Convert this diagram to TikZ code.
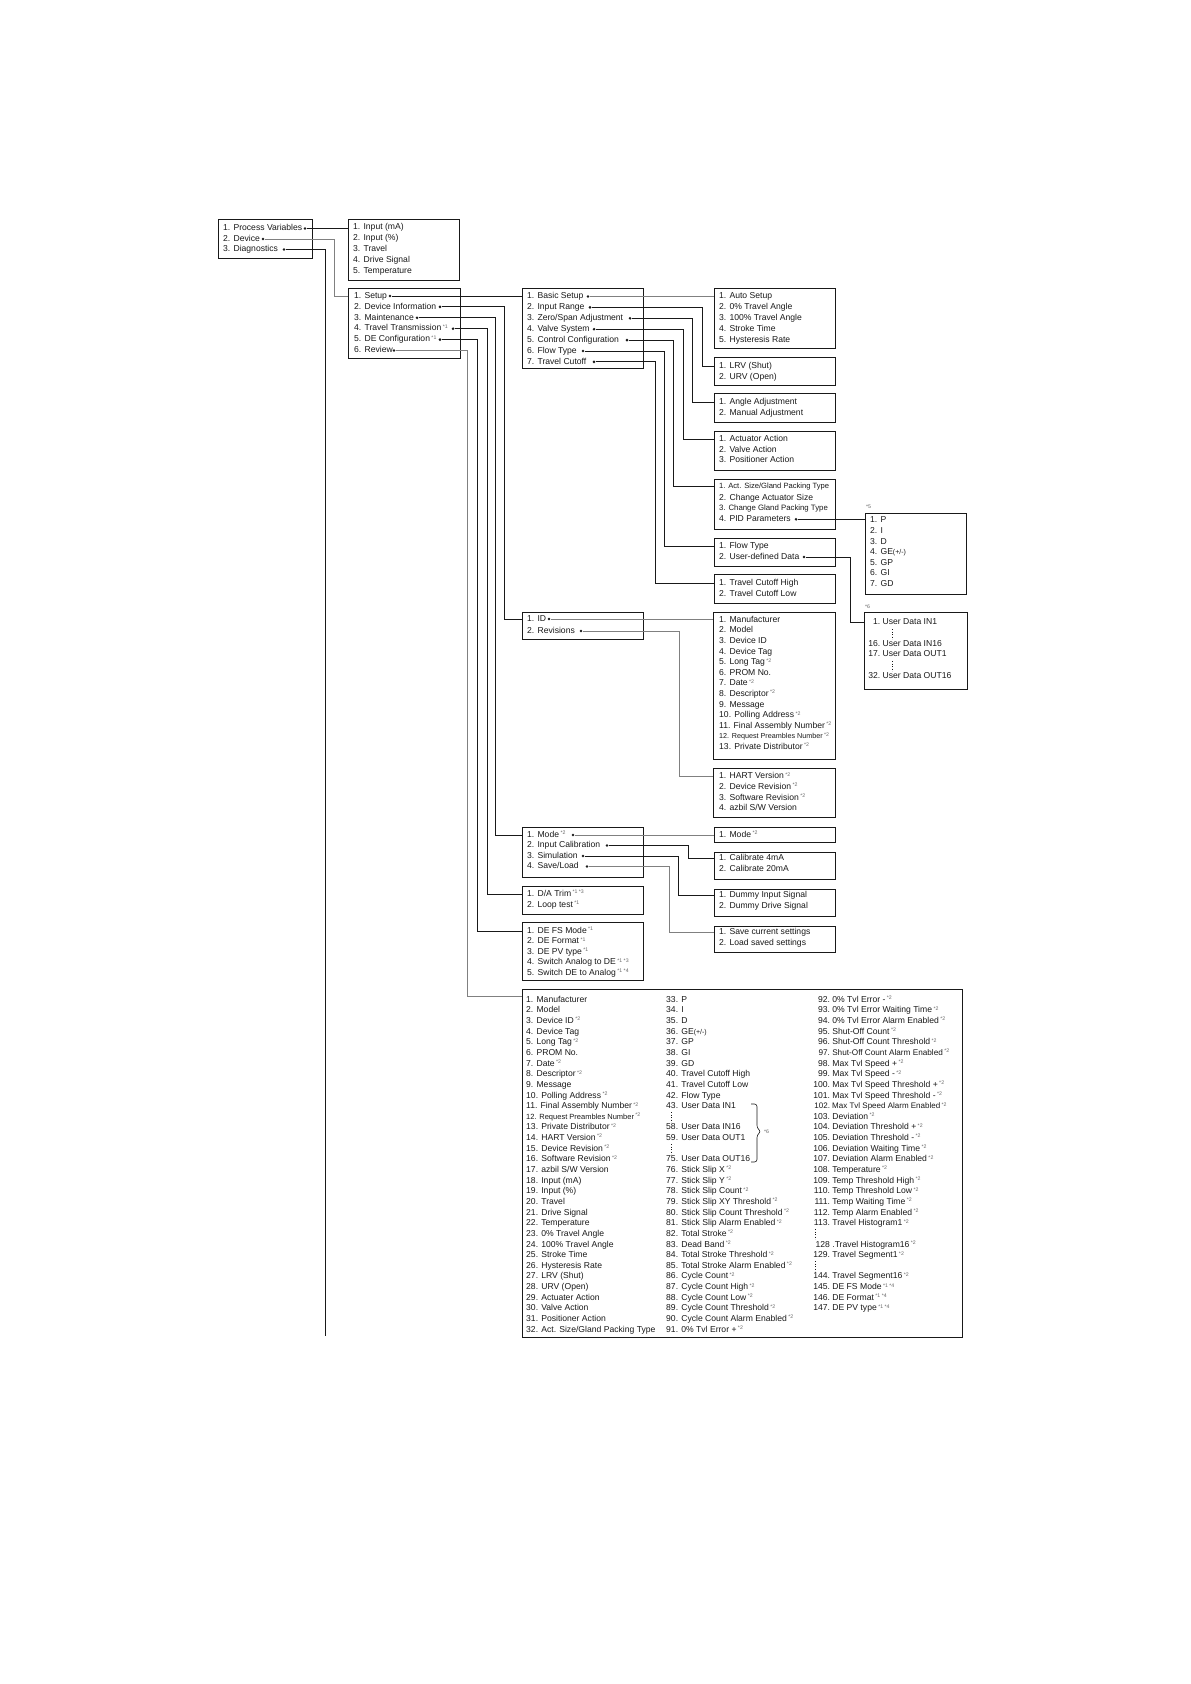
\documentclass[tikz,border=0pt]{standalone}
\usepackage{fontspec}
\setmainfont{Liberation Sans}
\usetikzlibrary{calc}
\definecolor{ink}{gray}{0.1}
\definecolor{sgray}{gray}{0.4}
\definecolor{lgray}{gray}{0.5}
\newcommand{\sn}[1]{\,{\color{sgray}\fontsize{5.2}{6}\selectfont\raisebox{2.6pt}{#1}}}
\newcommand{\nr}[1]{\makebox[16.8pt][r]{#1}}
\newcommand{\nrs}[1]{\makebox[12pt][r]{#1}}
\newcommand{\cnd}[2]{{\fontsize{#1}{10}\selectfont #2}}
\tikzset{
  box/.style={draw=ink, line width=1pt, anchor=north west, inner sep=0pt},
  it/.style={anchor=west, inner sep=0pt, text height=6.2pt, text depth=1.8pt, font=\fontsize{8.6}{10}\selectfont, text=ink},
  nt/.style={anchor=west, inner sep=0pt, font=\fontsize{5.2}{6}\selectfont, text=sgray},
  dot/.style={circle, fill=ink, inner sep=0pt, minimum size=2.9pt},
  ln/.style={draw=ink, line width=0.85pt},
  gln/.style={draw=lgray, line width=0.85pt},
  vdots/.style={draw=ink, line width=0.6pt, dash pattern=on 0.9pt off 1.6pt},
}
\begin{document}
\begin{tikzpicture}[x=1pt,y=-1pt]
\useasboundingbox (0,0) rectangle (1191,1684);

% ---------- Box A
\node[box, minimum width=94pt, minimum height=39pt] (bA) at (218,219) {};
\node[it] (tPV) at (223,228.5) {1. Process Variables};
\node[it] (tDev) at (223,239) {2. Device};
\node[it] (tDiag) at (223,249.5) {3. Diagnostics};
\node[dot] (dPV) at (305,228.5) {};
\node[dot] (dDev) at (263,239) {};
\node[dot] (dDiag) at (284,249.5) {};

% ---------- Box B
\node[box, minimum width=111pt, minimum height=61pt] (bB) at (348,219) {};
\node[it] (tB1) at (353,227.5) {1. Input (mA)};
\node[it] (tB2) at (353,238.3) {2. Input (\%)};
\node[it] (tB3) at (353,249) {3. Travel};
\node[it] (tB4) at (353,260) {4. Drive Signal};
\node[it] (tB5) at (353,271) {5. Temperature};

% ---------- Box C
\node[box, minimum width=112pt, minimum height=70pt] (bC) at (348,288) {};
\node[it] (tSetup) at (354,296) {1. Setup};
\node[it] (tDI) at (354,306.9) {2. Device Information};
\node[it] (tMa) at (354,317.8) {3. Maintenance};
\node[it] (tTT) at (354,328.7) {4. Travel Transmission\sn{*1}};
\node[it] (tDEC) at (354,339.6) {5. DE Configuration\sn{*1}};
\node[it] (tRv) at (354,350.5) {6. Review};
\node[dot] (dSetup) at (390,296) {};
\node[dot] (dDI) at (440,306.9) {};
\node[dot] (dMa) at (417,317.8) {};
\node[dot] (dTT) at (453,328.7) {};
\node[dot] (dDEC) at (440,339.6) {};
\node[dot] (dRv) at (394,350.5) {};

% ---------- Box D
\node[box, minimum width=121pt, minimum height=80pt] (bD) at (522,288) {};
\node[it] (tBS) at (527,296.5) {1. Basic Setup};
\node[it] (tIR) at (527,307.4) {2. Input Range};
\node[it] (tZS) at (527,318.3) {3. Zero/Span Adjustment};
\node[it] (tVS) at (527,329.2) {4. Valve System};
\node[it] (tCC) at (527,340.1) {5. Control Configuration};
\node[it] (tFT) at (527,351) {6. Flow Type};
\node[it] (tTC) at (527,361.9) {7. Travel Cutoff};
\node[dot] (dBS) at (588,296.5) {};
\node[dot] (dIR) at (590,307.4) {};
\node[dot] (dZS) at (630,318.3) {};
\node[dot] (dVS) at (594,329.2) {};
\node[dot] (dCC) at (627,340.1) {};
\node[dot] (dFT) at (583,351) {};
\node[dot] (dTC) at (594,361.9) {};

% ---------- Box E
\node[box, minimum width=121pt, minimum height=60pt] (bE) at (714,288) {};
\node[it] (tE1) at (719,296.5) {1. Auto Setup};
\node[it] (tE2) at (719,307.5) {2. 0\% Travel Angle};
\node[it] (tE3) at (719,318.5) {3. 100\% Travel Angle};
\node[it] (tE4) at (719,329) {4. Stroke Time};
\node[it] (tE5) at (719,340) {5. Hysteresis Rate};

% ---------- Box F
\node[box, minimum width=121pt, minimum height=28pt] (bF) at (714,357) {};
\node[it] (tLRV) at (719,366) {1. LRV (Shut)};
\node[it] (tURV) at (719,377) {2. URV (Open)};

% ---------- Box G
\node[box, minimum width=121pt, minimum height=29pt] (bG) at (714,393) {};
\node[it] (tAng) at (719,402) {1. Angle Adjustment};
\node[it] (tMan) at (719,413) {2. Manual Adjustment};

% ---------- Box H
\node[box, minimum width=121pt, minimum height=39pt] (bH) at (714,431) {};
\node[it] (tAct) at (719,439.3) {1. Actuator Action};
\node[it] (tVal) at (719,450) {2. Valve Action};
\node[it] (tPos) at (719,460.7) {3. Positioner Action};

% ---------- Box I
\node[box, minimum width=121pt, minimum height=50pt] (bI) at (714,479) {};
\node[it] (tAS) at (719,486.5) {\cnd{7.6}{1. Act. Size/Gland Packing Type}};
\node[it] (tCAS) at (719,497.8) {2. Change Actuator Size};
\node[it] (tCGP) at (719,508.6) {\cnd{7.8}{3. Change Gland Packing Type}};
\node[it] (tPID) at (719,519.3) {4. PID Parameters};
\node[dot] (dPID) at (796,519.3) {};

% ---------- Box J
\node[box, minimum width=101pt, minimum height=81pt] (bJ) at (865,513) {};
\node[nt] (n5) at (866,507) {*5};
\node[it] (tJ1) at (870,520.7) {1. P};
\node[it] (tJ2) at (870,531.3) {2. I};
\node[it] (tJ3) at (870,541.9) {3. D};
\node[it] (tJ4) at (870,552.5) {4. GE\cnd{7}{(+/-)}};
\node[it] (tJ5) at (870,563.1) {5. GP};
\node[it] (tJ6) at (870,573.7) {6. GI};
\node[it] (tJ7) at (870,584.3) {7. GD};

% ---------- Box K
\node[box, minimum width=121pt, minimum height=28pt] (bK) at (714,538) {};
\node[it] (tFT1) at (719,546) {1. Flow Type};
\node[it] (tUDD) at (719,557) {2. User-defined Data};
\node[dot] (dUDD) at (804,557) {};

% ---------- Box L
\node[box, minimum width=121pt, minimum height=29pt] (bL) at (714,574) {};
\node[it] (tTCH) at (719,583) {1. Travel Cutoff High};
\node[it] (tTCL) at (719,594) {2. Travel Cutoff Low};

% ---------- Box M
\node[box, minimum width=121pt, minimum height=27pt] (bM) at (522,612) {};
\node[it] (tID) at (527,619) {1. ID};
\node[it] (tRevs) at (527,631) {2. Revisions};
\node[dot] (dID) at (549,619) {};
\node[dot] (dRevs) at (581,631) {};

% ---------- Box N
\node[box, minimum width=122pt, minimum height=147pt] (bN) at (713,612) {};
\foreach \t [count=\i] in {
 {1. Manufacturer},{2. Model},{3. Device ID},{4. Device Tag},{5. Long Tag\sn{*2}},
 {6. PROM No.},{7. Date\sn{*2}},{8. Descriptor\sn{*2}},{9. Message},
 {10. Polling Address\sn{*2}},{11. Final Assembly Number\sn{*2}},
 {\cnd{7.2}{12. Request Preambles Number}\sn{*2}},{13. Private Distributor\sn{*2}}}
 \node[it] (tN\i) at (719,{620+10.6*(\i-1)}) {\t};

% ---------- Box O
\node[box, minimum width=103pt, minimum height=77pt] (bO) at (864,612) {};
\node[nt] (n6) at (865,607) {*6};
\node[it] (tUD1) at (868,622.5) {\nrs{1.} User Data IN1};
\node[it] (tUD16) at (868,644.3) {\nrs{16.} User Data IN16};
\node[it] (tUD17) at (868,654.5) {\nrs{17.} User Data OUT1};
\node[it] (tUD32) at (868,676.5) {\nrs{32.} User Data OUT16};
\draw[vdots] (892,629) -- (892,639);
\draw[vdots] (892,661) -- (892,671);

% ---------- Box P
\node[box, minimum width=122pt, minimum height=49pt] (bP) at (713,768) {};
\node[it] (tHART) at (719,776.7) {1. HART Version\sn{*2}};
\node[it] (tP2) at (719,787.3) {2. Device Revision\sn{*2}};
\node[it] (tP3) at (719,798) {3. Software Revision\sn{*2}};
\node[it] (tP4) at (719,808.3) {4. azbil S/W Version};

% ---------- Box Q
\node[box, minimum width=121pt, minimum height=50pt] (bQ) at (522,827) {};
\node[it] (tMode) at (527,835) {1. Mode\sn{*2}};
\node[it] (tIC) at (527,845.5) {2. Input Calibration};
\node[it] (tSim) at (527,856) {3. Simulation};
\node[it] (tSL) at (527,866.5) {4. Save/Load};
\node[dot] (dMode) at (573,835) {};
\node[dot] (dIC) at (607,845.5) {};
\node[dot] (dSim) at (583,856) {};
\node[dot] (dSL) at (587,866.5) {};

% ---------- Boxes R S T U
\node[box, minimum width=121pt, minimum height=15pt] (bR) at (714,827) {};
\node[it] (tR1) at (719,835) {1. Mode\sn{*2}};
\node[box, minimum width=121pt, minimum height=27pt] (bS) at (714,852) {};
\node[it] (tCal4) at (719,858.5) {1. Calibrate 4mA};
\node[it] (tCal20) at (719,869) {2. Calibrate 20mA};
\node[box, minimum width=121pt, minimum height=27pt] (bT) at (714,889) {};
\node[it] (tDum1) at (719,895.3) {1. Dummy Input Signal};
\node[it] (tDum2) at (719,905.8) {2. Dummy Drive Signal};
\node[box, minimum width=121pt, minimum height=26pt] (bU) at (714,926) {};
\node[it] (tSave) at (719,932.3) {1. Save current settings};
\node[it] (tLoad) at (719,943) {2. Load saved settings};

% ---------- Box V
\node[box, minimum width=121pt, minimum height=28pt] (bV) at (522,886) {};
\node[it] (tDA) at (527,894.3) {1. D/A Trim\sn{*1 *3}};
\node[it] (tLoop) at (527,905) {2. Loop test\sn{*1}};

% ---------- Box W
\node[box, minimum width=121pt, minimum height=58pt] (bW) at (522,922) {};
\node[it] (tDEFS) at (527,931) {1. DE FS Mode\sn{*1}};
\node[it] (tW2) at (527,941.5) {2. DE Format\sn{*1}};
\node[it] (tW3) at (527,952) {3. DE PV type\sn{*1}};
\node[it] (tW4) at (527,962.5) {4. Switch Analog to DE\sn{*1 *3}};
\node[it] (tW5) at (527,973) {5. Switch DE to Analog\sn{*1 *4}};

% ---------- Box X (Review)
\node[box, minimum width=440pt, minimum height=348pt] (bX) at (522,989) {};
\coordinate (revIn) at (522,996.6);
\foreach \t [count=\i] in {
 {1. Manufacturer},{2. Model},{3. Device ID\sn{*2}},{4. Device Tag},{5. Long Tag\sn{*2}},
 {6. PROM No.},{7. Date\sn{*2}},{8. Descriptor\sn{*2}},{9. Message},{10. Polling Address\sn{*2}},
 {11. Final Assembly Number\sn{*2}},{\cnd{7.5}{12. Request Preambles Number}\sn{*2}},
 {13. Private Distributor\sn{*2}},{14. HART Version\sn{*2}},{15. Device Revision\sn{*2}},
 {16. Software Revision\sn{*2}},{17. azbil S/W Version},{18. Input (mA)},{19. Input (\%)},
 {20. Travel},{21. Drive Signal},{22. Temperature},{23. 0\% Travel Angle},
 {24. 100\% Travel Angle},{25. Stroke Time},{26. Hysteresis Rate},{27. LRV (Shut)},
 {28. URV (Open)},{29. Actuater Action},{30. Valve Action},{31. Positioner Action},
 {32. Act. Size/Gland Packing Type}}
 \node[it] (xa\i) at (526,{1000+10.645*(\i-1)}) {\t};
% column 2
\foreach \t [count=\i] in {
 {33. P},{34. I},{35. D},{36. GE\cnd{7}{(+/-)}},{37. GP},{38. GI},{39. GD},
 {40. Travel Cutoff High},{41. Travel Cutoff Low},{42. Flow Type},{43. User Data IN1}}
 \node[it] (xb\i) at (666,{1000+10.645*(\i-1)}) {\t};
\foreach \t [count=\i from 13] in {{58. User Data IN16},{59. User Data OUT1}}
 \node[it] (xb\i) at (666,{1000+10.645*(\i-1)}) {\t};
\foreach \t [count=\i from 16] in {
 {75. User Data OUT16},{76. Stick Slip X\sn{*2}},{77. Stick Slip Y\sn{*2}},
 {78. Stick Slip Count\sn{*2}},{79. Stick Slip XY Threshold\sn{*2}},
 {80. Stick Slip Count Threshold\sn{*2}},{81. Stick Slip Alarm Enabled\sn{*2}},
 {82. Total Stroke\sn{*2}},{83. Dead Band\sn{*2}},{84. Total Stroke Threshold\sn{*2}},
 {85. Total Stroke Alarm Enabled\sn{*2}},{86. Cycle Count\sn{*2}},{87. Cycle Count High\sn{*2}},
 {88. Cycle Count Low\sn{*2}},{89. Cycle Count Threshold\sn{*2}},
 {90. Cycle Count Alarm Enabled\sn{*2}},{91. 0\% Tvl Error +\sn{*2}}}
 \node[it] (xb\i) at (666,{1000+10.645*(\i-1)}) {\t};
\draw[vdots] (671,1112) -- (671,1122);
\draw[vdots] (671,1144) -- (671,1154);
\draw[ink, line width=0.6pt, rounded corners=2.5pt]
  (751,1104) -| (757,1128) -- (761,1131.5) -- (757,1135) |- (751,1162);
\node[nt] (n6b) at (764,1131.5) {*6};
% column 3
\foreach \t [count=\i] in {
 {\nr{92.} 0\% Tvl Error -\sn{*2}},{\nr{93.} 0\% Tvl Error Waiting Time\sn{*2}},
 {\nr{94.} 0\% Tvl Error Alarm Enabled\sn{*2}},{\nr{95.} Shut-Off Count\sn{*2}},
 {\nr{96.} Shut-Off Count Threshold\sn{*2}},{\cnd{8.2}{\nr{97.} Shut-Off Count Alarm Enabled}\sn{*2}},
 {\nr{98.} Max Tvl Speed +\sn{*2}},{\nr{99.} Max Tvl Speed -\sn{*2}},
 {\nr{100.} Max Tvl Speed Threshold +\sn{*2}},{\nr{101.} Max Tvl Speed Threshold -\sn{*2}},
 {\cnd{8}{\nr{102.} Max Tvl Speed Alarm Enabled}\sn{*2}},{\nr{103.} Deviation\sn{*2}},
 {\nr{104.} Deviation Threshold +\sn{*2}},{\nr{105.} Deviation Threshold -\sn{*2}},
 {\nr{106.} Deviation Waiting Time\sn{*2}},{\nr{107.} Deviation Alarm Enabled\sn{*2}},
 {\nr{108.} Temperature\sn{*2}},{\nr{109.} Temp Threshold High\sn{*2}},
 {\nr{110.} Temp Threshold Low\sn{*2}},{\nr{111.} Temp Waiting Time\sn{*2}},
 {\nr{112.} Temp Alarm Enabled\sn{*2}},{\nr{113.} Travel Histogram1\sn{*2}}}
 \node[it] (xc\i) at (813,{1000+10.645*(\i-1)}) {\t};
\foreach \t [count=\i from 24] in {{\nr{128} .Travel Histogram16\sn{*2}},{\nr{129.} Travel Segment1\sn{*2}}}
 \node[it] (xc\i) at (813,{1000+10.645*(\i-1)}) {\t};
\foreach \t [count=\i from 27] in {{\nr{144.} Travel Segment16\sn{*2}},{\nr{145.} DE FS Mode\sn{*1 *4}},
 {\nr{146.} DE Format\sn{*1 *4}},{\nr{147.} DE PV type\sn{*1 *4}}}
 \node[it] (xc\i) at (813,{1000+10.645*(\i-1)}) {\t};
\draw[vdots] (815,1229) -- (815,1239);
\draw[vdots] (815,1261) -- (815,1271);

% ---------- bend coordinates
\coordinate (xDev) at (334,0);
\coordinate (diagEnd) at (325,1336);
\coordinate (xDI) at (504,0);
\coordinate (xMa) at (495,0);
\coordinate (xTT) at (487,0);
\coordinate (xDE) at (477,0);
\coordinate (xRv) at (467,0);
\coordinate (xIR) at (702,0);
\coordinate (xZS) at (692,0);
\coordinate (xVS) at (683,0);
\coordinate (xCC) at (673,0);
\coordinate (xFT) at (664,0);
\coordinate (xTC) at (655,0);
\coordinate (xUD) at (850,0);
\coordinate (xRs) at (679,0);
\coordinate (xIC) at (688,0);
\coordinate (xSim) at (678,0);
\coordinate (xSL) at (669,0);

% ---------- connectors
\draw[ln] (dPV) -- (bB.west |- dPV);
\draw[gln] (dDev) -| (xDev |- tSetup) -- (bC.west |- tSetup);
\draw[ln] (dDiag) -| (diagEnd);
\draw[ln] (dSetup) -- (bD.west |- dSetup);
\draw[ln] (dDI) -| (xDI |- tID) -- (bM.west |- tID);
\draw[ln] (dMa) -| (xMa |- tMode) -- (bQ.west |- tMode);
\draw[ln] (dTT) -| (xTT |- tDA) -- (bV.west |- tDA);
\draw[ln] (dDEC) -| (xDE |- tDEFS) -- (bW.west |- tDEFS);
\draw[gln] (dRv) -| (xRv |- revIn) -- (revIn);
\draw[gln] (dBS) -- (bE.west |- dBS);
\draw[ln] (dIR) -| (xIR |- tLRV) -- (bF.west |- tLRV);
\draw[ln] (dZS) -| (xZS |- tAng) -- (bG.west |- tAng);
\draw[ln] (dVS) -| (xVS |- tAct) -- (bH.west |- tAct);
\draw[ln] (dCC) -| (xCC |- tAS) -- (bI.west |- tAS);
\draw[ln] (dFT) -| (xFT |- tFT1) -- (bK.west |- tFT1);
\draw[ln] (dTC) -| (xTC |- tTCH) -- (bL.west |- tTCH);
\draw[ln] (dPID) -- (bJ.west |- dPID);
\draw[ln] (dUDD) -| (xUD |- tUD1) -- (bO.west |- tUD1);
\draw[gln] (dID) -- (bN.west |- dID);
\draw[gln] (dRevs) -| (xRs |- tHART) -- (bP.west |- tHART);
\draw[gln] (dMode) -- (bR.west |- dMode);
\draw[ln] (dIC) -| (xIC |- tCal4) -- (bS.west |- tCal4);
\draw[ln] (dSim) -| (xSim |- tDum1) -- (bT.west |- tDum1);
\draw[gln] (dSL) -| (xSL |- tSave) -- (bU.west |- tSave);
\end{tikzpicture}
\end{document}
